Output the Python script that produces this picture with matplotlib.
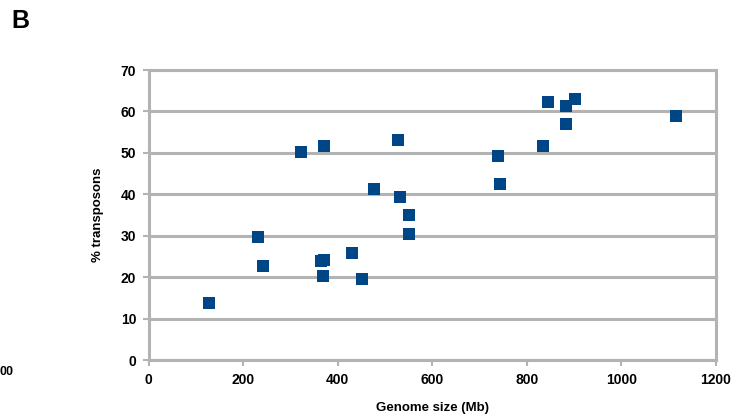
import matplotlib.pyplot as plt

genome_size = [127, 231, 241, 322, 372, 365, 372, 368, 431, 452, 528, 477, 531, 552, 552,
               740, 744, 835, 846, 883, 902, 883, 1117]
transposons = [13.8, 29.7, 22.7, 50.2, 51.7, 24.0, 24.2, 20.4, 25.8, 19.6, 53.1, 41.4, 39.4, 34.9, 30.5,
               49.3, 42.4, 51.7, 62.2, 61.4, 63.1, 57.0, 58.8]
x_ticks = [0, 200, 400, 600, 800, 1000, 1200]
y_ticks = [0, 10, 20, 30, 40, 50, 60, 70]

plt.rcParams['font.family'] = ['Liberation Sans', 'DejaVu Sans']
grey = "#b3b3b3"

fig = plt.figure(figsize=(7.47, 4.16), dpi=100)
ax = fig.add_axes([0.199, 0.1346, 0.759, 0.697])

ax.scatter(genome_size, transposons, marker="s", s=80, color="#004586", zorder=3, linewidths=0)

ax.set_xlim(0, 1200)
ax.set_ylim(0, 70)
ax.set_xticks(x_ticks)
ax.set_yticks(y_ticks)
ax.yaxis.grid(True, color=grey, linewidth=2.2)
ax.set_axisbelow(True)
for sp in ax.spines.values():
    sp.set_color(grey)
    sp.set_linewidth(2.2)
ax.tick_params(colors=grey, width=1.5, length=4, labelcolor="black", labelsize=10, pad=5)
for lab in ax.get_xticklabels() + ax.get_yticklabels():
    lab.set_fontweight("bold")

ax.set_xlabel("Genome size (Mb)", fontsize=9.5, fontweight="bold", labelpad=11)
ax.set_ylabel("% transposons", fontsize=9.5, fontweight="bold", labelpad=12)

fig.text(0.015, 0.95, "B", fontsize=18, fontweight="bold", va="center")
fig.text(0.0, 0.105, "00", fontsize=9, fontweight="bold", ha="left", va="center")

fig.savefig("out.png", dpi=100)
